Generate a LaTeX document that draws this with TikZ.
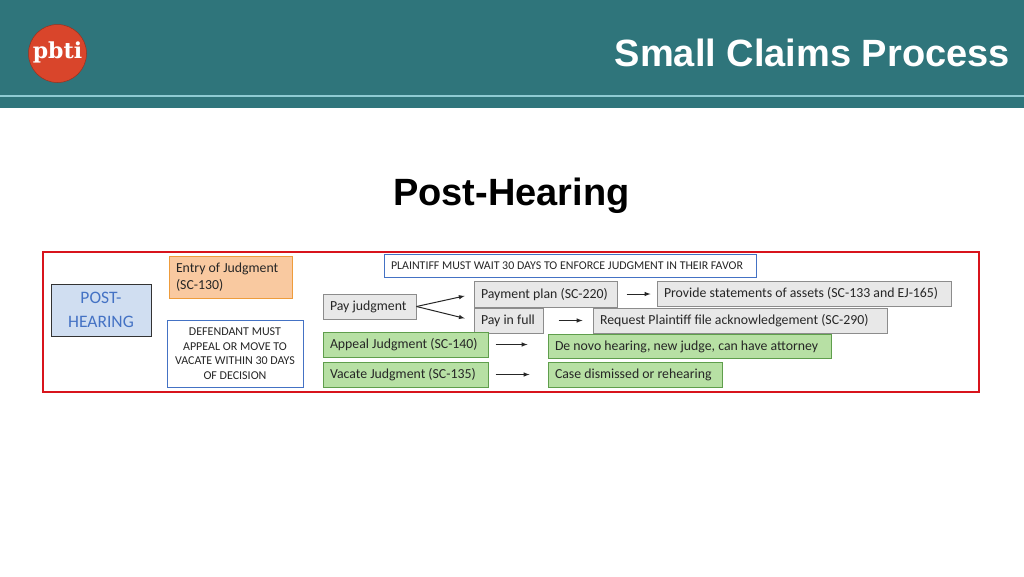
\documentclass[tikz,border=0pt]{standalone}
\usepackage{fontspec}
\usepackage{color,colortbl}
\setmainfont{Carlito}
\newfontfamily\headfont{Liberation Sans}
\newfontfamily\logofont{DejaVu Serif}
\definecolor{headteal}{HTML}{2F757B}
\definecolor{headline}{HTML}{8FCBD3}
\definecolor{logored}{HTML}{D9452B}
\definecolor{framered}{HTML}{D8141C}
\definecolor{noteblue}{HTML}{4472C4}
\definecolor{postfill}{HTML}{D0DEF1}
\definecolor{grayfill}{HTML}{E8E8E8}
\definecolor{grayedge}{HTML}{8C8C8C}
\definecolor{greenfill}{HTML}{B7E0A4}
\definecolor{greenedge}{HTML}{5F9E4C}
\definecolor{orangefill}{HTML}{F9C9A0}
\definecolor{orangeedge}{HTML}{EE9C3C}
\tikzset{
    box/.style={draw, line width=1pt, inner sep=0pt, anchor=center, align=left, font=\fontsize{13.8}{16}\selectfont, text=black!85},
    wide/.style={text width=#1, execute at begin node={\spaceskip=0pt\relax\hspace*{7pt}}, text height=11.5pt, text depth=3.5pt},
    graybox/.style={box, fill=grayfill, draw=grayedge},
    greenbox/.style={box, fill=greenfill, draw=greenedge},
    notebox/.style={box, fill=white, draw=noteblue, align=center, font=\fontsize{12}{14.6}\selectfont},
    headtext/.style={font=\headfont\bfseries\fontsize{38}{42}\selectfont, text=black, inner sep=0pt},
    arrow/.style={-latex, line width=1pt, black!85}
}
\begin{document}
\begin{tikzpicture}[x=1pt,y=-1pt]
    \useasboundingbox (0,0) rectangle (1024,576);
    \fill [white] (0,0) rectangle (1024,576);

    % header band
    \fill [headteal] (0,0) rectangle (1024,108);
    \draw [headline, line width=1.2pt] (0,96) -- (1024,96);
    \node (logo) [circle, fill=logored, draw=logored!70!black, line width=0.5pt, minimum size=58pt, inner sep=0pt] at (57.5,53.5) {};
    \node (logotext) [text=white, inner sep=0pt, font=\logofont\bfseries\fontsize{22}{24}\selectfont] at (57.5,52) {pbti};
    \node (claims) [headtext, text=white, anchor=east] at (1010,53) {Small Claims Process};
    \node (posthearing) [headtext, anchor=center] at (511.5,196) {Post-Hearing};

    % red frame
    \draw [framered, line width=1.8pt] (43,252) rectangle (979,392);

    % left column
    \node (stage) [box, fill=postfill, draw=black!80, align=center, minimum width=100pt, minimum height=52pt, text=noteblue, font=\fontsize{17.5}{24}\selectfont] at (101,310) {POST-\\HEARING};
    \node (entry) [box, fill=orangefill, draw=orangeedge, minimum width=123pt, minimum height=42pt, font=\fontsize{13.8}{16.5}\selectfont, text width=109pt, execute at begin node={\spaceskip=0pt\relax}] at (230.5,277) {Entry of Judgment\\(SC-130)};
    \node (defendant) [notebox, minimum width=136pt, minimum height=67pt] at (235,353.5) {DEFENDANT MUST\\APPEAL OR MOVE TO\\VACATE WITHIN 30 DAYS\\OF DECISION};
    \node (plaintiff) [notebox, wide=372pt, minimum height=23pt, align=left, font=\fontsize{11.9}{13}\selectfont] at (570,265.5) {PLAINTIFF MUST WAIT 30 DAYS TO ENFORCE JUDGMENT IN THEIR FAVOR};

    % gray boxes
    \node (pay) [graybox, wide=93pt, minimum height=25pt] at (369.5,306.5) {Pay judgment};
    \node (plan) [graybox, wide=143pt, minimum height=26pt] at (545.5,294) {Payment plan (SC-220)};
    \node (full) [graybox, wide=69pt, minimum height=25pt] at (508.5,320.5) {Pay in full};
    \node (assets) [graybox, wide=294pt, minimum height=25pt] at (804,293.5) {Provide statements of assets (SC-133 and EJ-165)};
    \node (request) [graybox, wide=294pt, minimum height=25pt] at (740,320.5) {Request Plaintiff file acknowledgement (SC-290)};

    % green boxes
    \node (appeal) [greenbox, wide=165pt, minimum height=25pt] at (405.5,344.5) {Appeal Judgment (SC-140)};
    \node (vacate) [greenbox, wide=165pt, minimum height=25pt] at (405.5,374.5) {Vacate Judgment (SC-135)};
    \node (denovo) [greenbox, wide=283pt, minimum height=24pt] at (689.5,346) {De novo hearing, new judge, can have attorney};
    \node (dismissed) [greenbox, wide=174pt, minimum height=25pt] at (635,374.5) {Case dismissed or rehearing};

    % arrows
    \draw [arrow, shorten >=9pt] (pay.east) -- (plan.west);
    \draw [arrow, shorten >=9pt] (pay.east) -- (full.west);
    \draw [arrow, shorten <=9pt, shorten >=6pt] (plan.east) -- (assets.west |- plan.east);
    \draw [arrow, shorten <=15pt, shorten >=10pt] (full.east) -- (request.west);
    \draw [arrow, shorten <=7pt, shorten >=20pt] (appeal.east) -- (appeal.east -| denovo.west);
    \draw [arrow, shorten <=7pt, shorten >=18pt] (vacate.east) -- (dismissed.west);
\end{tikzpicture}
\end{document}
